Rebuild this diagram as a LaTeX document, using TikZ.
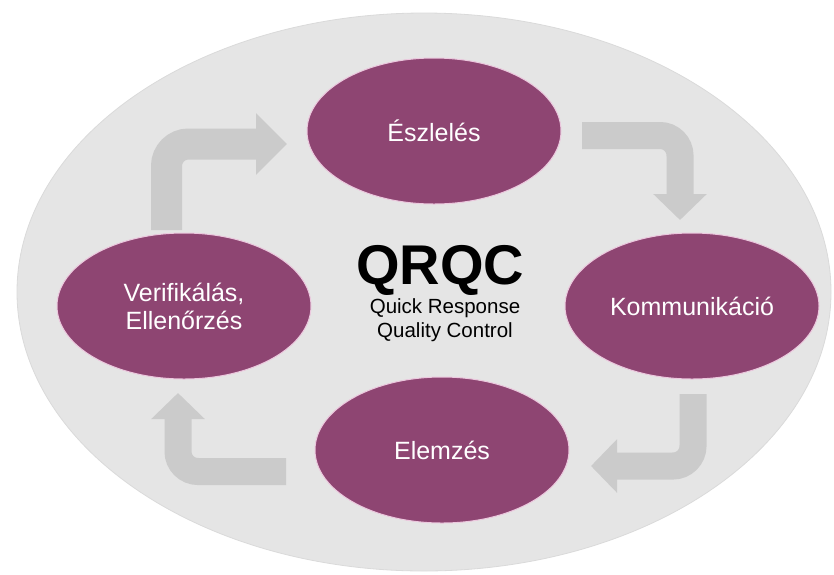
\documentclass[tikz,border=0pt]{standalone}
\usepackage{fontspec}
\setmainfont{Liberation Sans}
\usetikzlibrary{shapes.geometric,arrows.meta}

\definecolor{plum}{RGB}{142,69,114}
\definecolor{plumedge}{RGB}{236,200,222}
\definecolor{panel}{RGB}{229,229,229}
\definecolor{paneledge}{RGB}{218,218,218}
\definecolor{flow}{RGB}{203,203,203}

\tikzset{
  stage/.style={ellipse, fill=plum, draw=plumedge, line width=1pt,
    minimum width=254pt, minimum height=146pt, inner sep=0pt,
    text=white, align=center, font=\fontsize{25}{28}\selectfont},
  flowarrow/.style={draw=flow, line width=27pt, rounded corners=20pt,
    -{Triangle[length=26pt,width=52pt]}},
  bigflowarrow/.style={flowarrow, line width=31pt, rounded corners=22pt,
    -{Triangle[length=31pt,width=60pt]}},
}

\begin{document}
\begin{tikzpicture}[x=1pt,y=-1pt]
  \useasboundingbox (0,0) rectangle (834,574);

  % background disc
  \node (panel) [ellipse, fill=panel, draw=paneledge, line width=0.8pt,
    minimum width=814pt, minimum height=558pt, inner sep=0pt] at (424,292) {};

  % cycle stages
  \node (detect)  [stage] at (434,131) {Észlelés};
  \node (comm)    [stage] at (692,306) {Kommunikáció};
  \node (analyse) [stage] at (442,450) {Elemzés};
  \node (verify)  [stage] at (184,306) {Verifikálás,\\Ellenőrzés};

  % centre title
  \node (title) [anchor=base, font=\bfseries\fontsize{56}{56}\selectfont,
    inner sep=0pt] at (440,284) {QRQC};
  \node (subtitle) [anchor=north, align=center, inner sep=0pt,
    font=\fontsize{20.5}{24}\selectfont] at (445,298.5)
    {Quick Response\\Quality Control};

  % end points of the bent flow arrows
  \coordinate (a1s) at (166.5,230);
  \coordinate (a1e) at (287,144);
  \coordinate (a2s) at (582,135.5);
  \coordinate (a2e) at (680,220);
  \coordinate (a3s) at (693,394);
  \coordinate (a3e) at (591,466);
  \coordinate (a4s) at (286,471.5);
  \coordinate (a4e) at (178,393);

  % flow arrows around the cycle
  \draw[bigflowarrow] (a1s) |- (a1e);
  \draw[flowarrow] (a2s) -| (a2e);
  \draw[flowarrow] (a3s) |- (a3e);
  \draw[flowarrow] (a4s) -| (a4e);
\end{tikzpicture}
\end{document}
